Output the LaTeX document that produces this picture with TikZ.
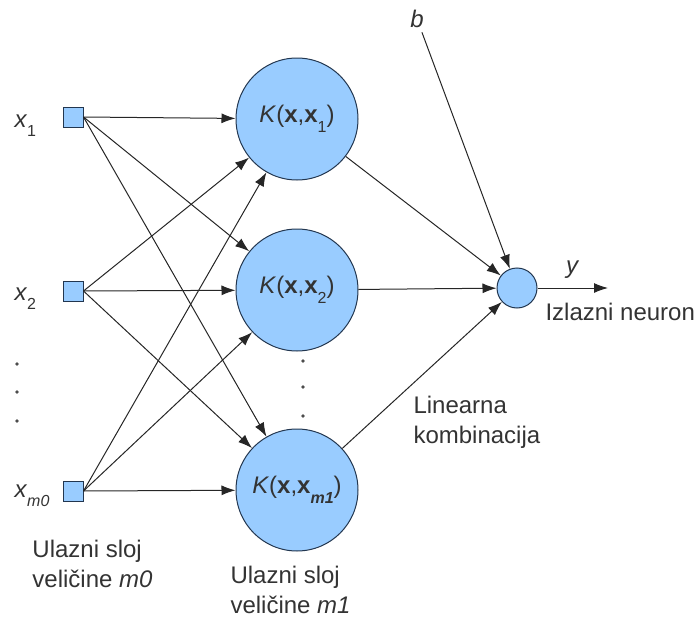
\documentclass[tikz,border=0pt]{standalone}
\usepackage{fontspec}
\setmainfont{Liberation Sans}
\usepackage{xcolor}
\usetikzlibrary{arrows.meta,positioning}
\definecolor{cellblue}{HTML}{99CCFF}
\definecolor{rimblue}{HTML}{22364F}
\definecolor{inkgray}{HTML}{333333}
\def\lowsub#1{\raisebox{-0.75ex}{\footnotesize #1}}

\begin{document}
\begin{tikzpicture}[x=0.5pt,y=-0.5pt,line width=0.5pt,-{Latex[length=7pt,width=5pt]},
    draw=black!85,text=inkgray,font=\fontsize{12}{15}\selectfont]
    \tikzstyle{unit}=[draw=rimblue,fill=cellblue,inner sep=0pt]
    \tikzstyle{input unit}=[unit,rectangle,minimum size=10pt];
    \tikzstyle{kernel unit}=[unit,circle,minimum size=61pt];
    \tikzstyle{output unit}=[unit,circle,minimum size=20pt];
    \tikzstyle{annot}=[inner sep=0pt,align=left]

    \useasboundingbox (0,0) rectangle (697,621);

    % Draw the input layer nodes
    \foreach \name / \y / \idx in {1/117/1,2/291/2,3/491/\textit{m0}}
        \node[input unit] (I-\name) at (73,\y) {};
    \foreach \name / \y / \idx in {1/127/1,2/300/2,3/497/\textit{m0}}
        \node[annot,anchor=base west] (X-\name) at (14,\y) {\textit{x}\lowsub{\idx}};
    \foreach \y in {364,392,421}
        \fill[-,black!70] (17,\y) circle (0.9pt);

    % Draw the kernel layer nodes
    \foreach \name / \y / \idx in {1/119/1,2/290/2,3/490/\textbf{\textit{m1}}}
        \node[kernel unit] (H-\name) at (297,\y) {\textit{K}(\textbf{x},\textbf{x}\lowsub{\idx})};
    \foreach \y in {361,387,416}
        \fill[-,black!70] (303,\y) circle (0.9pt);

    % Draw the output node
    \node[output unit] (O) at (517,288) {};

    % Connect every input with every kernel node
    \foreach \source in {1,...,3}
        \foreach \dest in {1,...,3}
            \path (I-\source.east) edge (H-\dest);

    % Connect the kernel nodes with the output node
    \foreach \source in {1,...,3}
        \path (H-\source) edge (O);

    % Bias and output
    \node[annot,inner sep=2pt] (b) at (417,19) {\textit{b}};
    \path (b) edge (O);
    \coordinate (out) at (608,288);
    \draw (O) -- (out) node[midway,above=1pt] (y) {\textit{y}};

    % Annotate the layers
    \node[annot,anchor=north west] (lin) at (413,396) {Linearna\\kombinacija};
    \node[annot,anchor=north west] (out-txt) at (545,303) {Izlazni neuron};
    \node[annot,anchor=north west] (in-txt) at (32,540) {Ulazni sloj\\veličine \textit{m0}};
    \node[annot,anchor=north west] (hid-txt) at (230,566) {Ulazni sloj\\veličine \textit{m1}};
\end{tikzpicture}
\end{document}
